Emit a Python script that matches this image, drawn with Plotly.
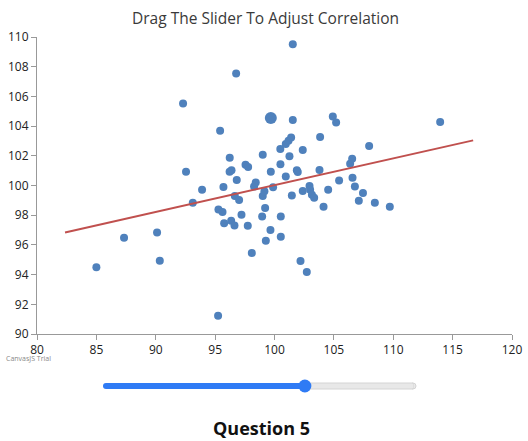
import plotly.graph_objects as go

# ---- data ----
x_vals = [85.0, 87.33, 90.11, 90.34, 92.30, 92.55, 93.12, 93.90, 95.25, 95.28,
          95.42, 95.62, 95.70, 95.76, 96.23, 96.22, 96.38, 96.35, 96.63, 96.66,
          96.77, 96.82, 97.02, 97.22, 97.56, 97.78, 97.75, 98.09, 98.28, 98.42,
          98.96, 99.01, 99.01, 99.15, 99.21, 99.27, 99.66, 99.69, 99.88, 100.49,
          100.50, 100.53, 100.53, 100.95, 100.95, 101.18, 101.26, 101.40, 101.46, 101.54,
          101.54, 101.88, 101.96, 102.19, 102.38, 102.38, 102.72, 102.95, 103.00, 103.15,
          103.34, 103.79, 103.84, 104.13, 104.52, 104.91, 105.19, 105.44, 106.37, 106.54,
          106.57, 106.77, 107.10, 107.45, 107.97, 108.45, 109.71, 113.95]
y_vals = [94.50, 96.48, 96.84, 94.94, 105.53, 100.93, 98.84, 99.72, 91.23, 98.39,
          103.69, 98.21, 99.90, 97.45, 101.87, 100.93, 101.02, 97.63, 97.31, 99.29,
          107.55, 100.37, 99.02, 98.03, 101.40, 101.25, 97.29, 95.45, 99.94, 100.21,
          97.92, 102.07, 99.29, 99.62, 98.48, 96.28, 97.00, 100.93, 99.88, 102.46,
          101.43, 97.92, 96.55, 102.79, 100.61, 103.02, 101.97, 103.24, 99.33, 109.51,
          104.41, 101.02, 100.91, 94.92, 102.39, 99.63, 94.18, 99.97, 99.72, 99.38,
          99.17, 101.04, 103.27, 98.57, 99.72, 104.65, 104.25, 100.34, 101.47, 101.80,
          100.53, 99.94, 98.98, 99.49, 102.66, 98.84, 98.57, 104.28]
highlight_x = [99.69]
highlight_y = [104.55]
trend_x = [82.36, 116.73]
trend_y = [96.84, 103.04]
x_ticks = [80, 85, 90, 95, 100, 105, 110, 115, 120]
y_ticks = [90, 92, 94, 96, 98, 100, 102, 104, 106, 108, 110]
title_text = "Drag The Slider To Adjust Correlation"
question_text = "Question 5"
slider_fraction = 0.645

# ---- layout geometry (pixels) ----
W, H = 528, 441
L, R, T, B = 37, 16, 37, 107
PW, PH = W - L - R, H - T - B


def px(x, y):
    return (x - L) / PW, (H - B - y) / PH


fig = go.Figure()
fig.add_trace(go.Scatter(x=x_vals, y=y_vals, mode="markers",
                         marker=dict(color="#4F81BC", size=8, line=dict(width=0)),
                         hoverinfo="x+y", showlegend=False))
fig.add_trace(go.Scatter(x=highlight_x, y=highlight_y, mode="markers",
                         marker=dict(color="#4F81BC", size=12, line=dict(width=0)),
                         showlegend=False))
fig.add_trace(go.Scatter(x=trend_x, y=trend_y, mode="lines",
                         line=dict(color="#C0504E", width=2), showlegend=False))

axis_common = dict(showgrid=False, zeroline=False, showline=True, linecolor="#999999",
                   linewidth=1, ticks="outside", ticklen=5, tickcolor="#999999",
                   automargin=False, fixedrange=True,
                   tickfont=dict(family="Open Sans, sans-serif", size=12, color="#222222"))
fig.update_xaxes(range=[80, 120], tickvals=x_ticks, ticktext=[str(v) for v in x_ticks], **axis_common)
fig.update_yaxes(range=[90, 110], tickvals=y_ticks, ticktext=[str(v) for v in y_ticks], **axis_common)

# slider drawn with shapes
sx0, sx1, sy, th = 103, 416, 386, 6
thumb_x = sx0 + (sx1 - sx0) * slider_fraction
shapes = []


def rect(x0, x1, y0, y1, color, line_color=None):
    a = px(x0, y0)
    b = px(x1, y1)
    return dict(type="rect", xref="paper", yref="paper", x0=a[0], x1=b[0], y0=a[1], y1=b[1],
                fillcolor=color, line=dict(width=1 if line_color else 0, color=line_color or color),
                layer="above")


def circ(cx, cy, r, color, line_color=None):
    a = px(cx - r, cy + r)
    b = px(cx + r, cy - r)
    return dict(type="circle", xref="paper", yref="paper", x0=a[0], x1=b[0], y0=a[1], y1=b[1],
                fillcolor=color, line=dict(width=1 if line_color else 0, color=line_color or color),
                layer="above")


shapes.append(circ(sx1 - th / 2, sy, th / 2, "#E8E8E8", "#D4D4D4"))
shapes.append(rect(thumb_x, sx1 - th / 2, sy - th / 2, sy + th / 2, "#E8E8E8", "#D4D4D4"))
shapes.append(rect(thumb_x, sx1 - th / 2, sy - th / 2 + 1, sy + th / 2 - 1, "#E8E8E8"))
shapes.append(circ(sx0 + th / 2, sy, th / 2, "#2F7BF5"))
shapes.append(rect(sx0 + th / 2, thumb_x, sy - th / 2, sy + th / 2, "#2F7BF5"))
shapes.append(circ(thumb_x, sy, 6.5, "#2F7BF5"))

annotations = []
tx, ty = px(265, 18)
annotations.append(dict(text=title_text, x=tx, y=ty, xref="paper", yref="paper", showarrow=False,
                        xanchor="center", yanchor="middle",
                        font=dict(family="Open Sans, sans-serif", size=15.5, color="#3A3A3A")))
qx, qy = px(261, 428)
annotations.append(dict(text="<b>" + question_text + "</b>", x=qx, y=qy, xref="paper", yref="paper",
                        showarrow=False, xanchor="center", yanchor="middle",
                        font=dict(family="Open Sans, sans-serif", size=18, color="#111111")))
cx_, cy_ = px(4, 358)
annotations.append(dict(text="CanvasJS Trial", x=cx_, y=cy_, xref="paper", yref="paper",
                        showarrow=False, xanchor="left", yanchor="middle",
                        font=dict(family="Open Sans, sans-serif", size=7, color="#888888")))

fig.update_layout(width=W, height=H, autosize=False, margin=dict(l=L, r=R, t=T, b=B, pad=0),
                  paper_bgcolor="white", plot_bgcolor="white",
                  shapes=shapes, annotations=annotations, showlegend=False)

fig.write_html("out.html", config={"displayModeBar": False, "responsive": False},
               post_script="document.body.style.margin='0';document.body.style.overflow='hidden';")
